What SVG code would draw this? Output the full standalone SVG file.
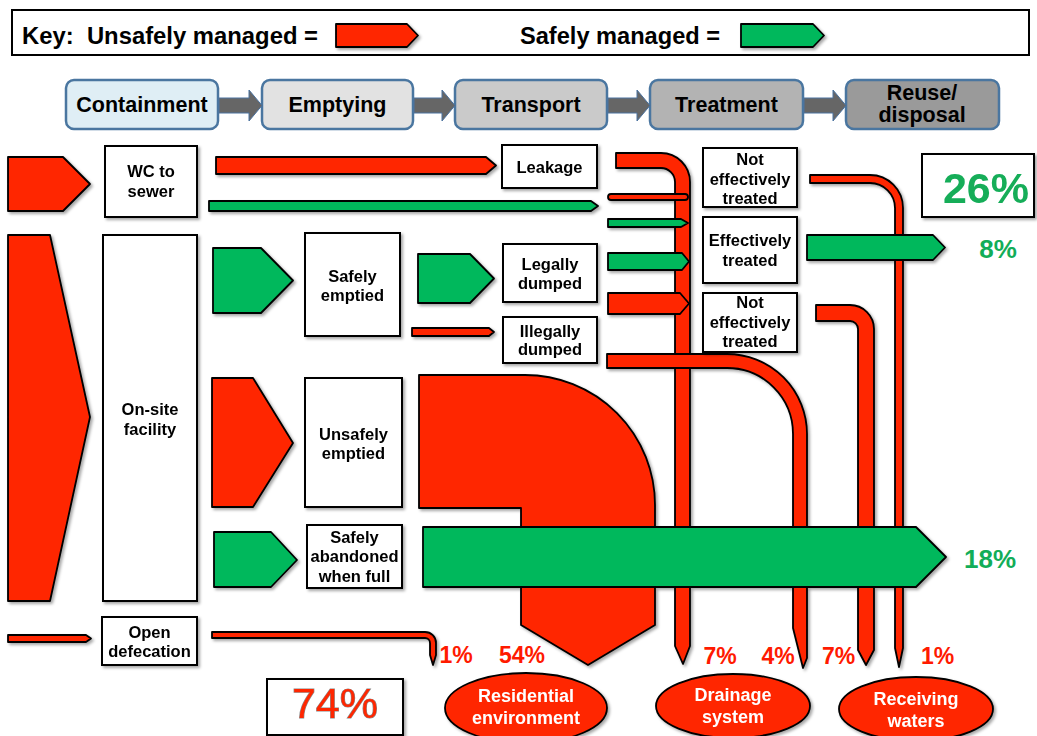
<svg xmlns="http://www.w3.org/2000/svg" width="1037" height="736" viewBox="0 0 1037 736">
<defs>
<filter id="sh" filterUnits="userSpaceOnUse" x="0" y="0" width="1037" height="736">
<feDropShadow dx="2" dy="2" stdDeviation="1.5" flood-color="#000" flood-opacity="0.35"/>
</filter>
<style>
.r{fill:#FF2600;stroke:#000;stroke-width:1.8;stroke-linejoin:round}
.g{fill:#00B85C;stroke:#000;stroke-width:1.8;stroke-linejoin:round}
.box{fill:#fff;stroke:#000;stroke-width:2}
.pb{stroke:#4A76A0;stroke-width:2.5}
.pa{fill:#666;stroke:#4A72A0;stroke-width:1}
.t{font-family:"Liberation Sans",Arial,sans-serif;font-weight:bold;font-size:16.5px;text-anchor:middle;fill:#000}
.pt{font-family:"Liberation Sans",Arial,sans-serif;font-weight:bold;font-size:21.5px;text-anchor:middle;fill:#000}
.pr{font-family:"Liberation Sans",Arial,sans-serif;font-weight:bold;font-size:23px;text-anchor:middle;fill:#FF1A00}
.pg{font-family:"Liberation Sans",Arial,sans-serif;font-weight:bold;font-size:26px;text-anchor:middle;fill:#12AD58}
.et{font-family:"Liberation Sans",Arial,sans-serif;font-weight:bold;font-size:18px;text-anchor:middle;fill:#fff}
.k{font-family:"Liberation Sans",Arial,sans-serif;font-weight:bold;font-size:23px;fill:#000}
</style>
</defs>
<rect x="0" y="0" width="1037" height="736" fill="#fff"/>

<g id="key">
<rect x="12" y="10" width="1017" height="45" fill="#fff" stroke="#000" stroke-width="2"/>
<text class="k" x="22" y="44" textLength="296" lengthAdjust="spacingAndGlyphs">Key:&#160; Unsafely managed =</text>
<polygon class="r" filter="url(#sh)" points="336,24 407,24 418,35.5 407,47 336,47"/>
<text class="k" x="520" y="44" textLength="200" lengthAdjust="spacingAndGlyphs">Safely managed =</text>
<polygon class="g" filter="url(#sh)" points="741,24 813,24 824,35.5 813,47 741,47"/>
</g>

<g id="process">
<g id="p-containment"><rect class="pb" x="66" y="80" width="152" height="49" rx="8" fill="#DFEEF5"/><text class="pt" x="142" y="112">Containment</text></g>
<g id="p-emptying"><rect class="pb" x="262" y="80" width="151" height="49" rx="8" fill="#E2E2E2"/><text class="pt" x="337.5" y="112">Emptying</text></g>
<g id="p-transport"><rect class="pb" x="455" y="80" width="152" height="49" rx="8" fill="#CACACA"/><text class="pt" x="531" y="112">Transport</text></g>
<g id="p-treatment"><rect class="pb" x="650" y="80" width="153" height="49" rx="8" fill="#B3B3B3"/><text class="pt" x="726.5" y="112">Treatment</text></g>
<g id="p-reuse"><rect class="pb" x="846" y="80" width="153" height="49" rx="8" fill="#9A9A9A"/><text class="pt" x="922" y="100">Reuse/</text><text class="pt" x="922" y="122">disposal</text></g>
</g>
<g id="process-arrows">
<polygon class="pa" points="219,98 249,98 249,90 262,105.5 249,121 249,113 219,113"/>
<polygon class="pa" points="414,98 442,98 442,90 455,105.5 442,121 442,113 414,113"/>
<polygon class="pa" points="608,98 637,98 637,90 650,105.5 637,121 637,113 608,113"/>
<polygon class="pa" points="804,98 833,98 833,90 846,105.5 833,121 833,113 804,113"/>
</g>

<g id="connectors" filter="url(#sh)">
<path class="r" d="M419,375 H525 A130,130 0 0 1 655,505 V625 L588,665 L521,625 V508 H419 Z"/>
<path class="r" d="M616,153 H661 A29,29 0 0 1 690,182 V646 L683,664 L675,646 V182 A14,14 0 0 0 661,168 H616 Z"/>
<path class="r" d="M607,354 H727 A80,80 0 0 1 807,434 V658 L803,668 L793,628 V434 A66,66 0 0 0 727,368 H607 Z"/>
<path class="r" d="M810,175 H870 A33,33 0 0 1 903,208 V648 L899,667 L895,648 V208 A25,25 0 0 0 870,183 H810 Z"/>
<path class="r" d="M816,305 H850 A24,24 0 0 1 874,329 V650 L866,665 L858,650 V329 A8,8 0 0 0 850,321 H816 Z"/>
<path class="r" d="M212,632 H425 A11,11 0 0 1 436,643 V655 L433,665 L430,655 V643 A5,5 0 0 0 425,638 H212 Z"/>
<rect class="r" x="608" y="194" width="80" height="6" rx="3"/>
<polygon class="g" points="608,219 681,219 688,223 681,227 608,227"/>
<polygon class="g" points="608,253 682,253 689,261.5 682,270 608,270"/>
<polygon class="r" points="608,293 680,293 689,303.5 680,314 608,314"/>
<polygon class="r" points="8,157 63,157 90,184 63,211 8,211"/>
<polygon class="r" points="8,235 50,235 90,417 50,601 8,601"/>
<polygon class="r" points="8,635 86,635 91,638.5 86,642 8,642"/>
<polygon class="g" points="213,248 261,248 293,280.5 261,313 213,313"/>
<polygon class="r" points="212,378 253,378 293,443 253,507 212,507"/>
<polygon class="g" points="214,532 271,532 297,560 271,587 214,587"/>
<polygon class="r" points="216,157 486,157 496,165.5 486,174 216,174"/>
<polygon class="g" points="209,201 591,201 598,206 591,211 209,211"/>
<polygon class="g" points="418,254 470,254 494,278.5 470,303 418,303"/>
<polygon class="r" points="412,328 489,328 494,332 489,336 412,336"/>
<polygon class="g" points="807,235 933,235 945,247.5 933,260 807,260"/>
<polygon class="g" points="423,527 916,527 946,557 916,587 423,587"/>
</g>

<g id="nodes" filter="url(#sh)">
<g id="n-wc"><rect class="box" x="105" y="146" width="92" height="71"/><text class="t" x="151" y="177">WC to</text><text class="t" x="151" y="197">sewer</text></g>
<g id="n-onsite"><rect class="box" x="103" y="235" width="94" height="366"/><text class="t" x="150" y="415">On-site</text><text class="t" x="150" y="435">facility</text></g>
<g id="n-open"><rect class="box" x="102" y="617" width="95" height="48"/><text class="t" x="149.5" y="638">Open</text><text class="t" x="149.5" y="657">defecation</text></g>
<g id="n-safely-emptied"><rect class="box" x="305" y="233" width="95" height="103"/><text class="t" x="352.5" y="282">Safely</text><text class="t" x="352.5" y="301">emptied</text></g>
<g id="n-unsafely-emptied"><rect class="box" x="305" y="378" width="97" height="129"/><text class="t" x="353.5" y="440">Unsafely</text><text class="t" x="353.5" y="459">emptied</text></g>
<g id="n-abandoned"><rect class="box" x="307" y="525" width="95" height="63"/><text class="t" x="354.5" y="543">Safely</text><text class="t" x="354.5" y="562">abandoned</text><text class="t" x="354.5" y="582">when full</text></g>
<g id="n-leakage"><rect class="box" x="502" y="145" width="95" height="43"/><text class="t" x="549.5" y="173">Leakage</text></g>
<g id="n-legally"><rect class="box" x="503" y="244" width="94" height="58"/><text class="t" x="550" y="270">Legally</text><text class="t" x="550" y="289">dumped</text></g>
<g id="n-illegally"><rect class="box" x="503" y="317" width="94" height="46"/><text class="t" x="550" y="337">Illegally</text><text class="t" x="550" y="355">dumped</text></g>
<g id="n-noteff1"><rect class="box" x="703" y="148" width="94" height="59"/><text class="t" x="750" y="165">Not</text><text class="t" x="750" y="185">effectively</text><text class="t" x="750" y="204">treated</text></g>
<g id="n-eff"><rect class="box" x="703" y="217" width="94" height="66"/><text class="t" x="750" y="246">Effectively</text><text class="t" x="750" y="266">treated</text></g>
<g id="n-noteff2"><rect class="box" x="703" y="293" width="94" height="59"/><text class="t" x="750" y="308">Not</text><text class="t" x="750" y="328">effectively</text><text class="t" x="750" y="347">treated</text></g>
<g id="n-26"><rect class="box" x="922" y="154" width="112" height="63"/><text x="986" y="203" font-family="Liberation Sans, Arial, sans-serif" font-weight="bold" font-size="43" text-anchor="middle" fill="#12AD58">26%</text></g>
<g id="n-74"><rect class="box" x="267" y="679" width="136" height="56"/><text x="335" y="718" font-family="Liberation Sans, Arial, sans-serif" font-size="43" text-anchor="middle" fill="#FF2600" stroke="#8A8A8A" stroke-width="1.2" paint-order="stroke">74%</text></g>
<g id="n-residential"><ellipse class="r" cx="526" cy="708" rx="81" ry="35"/><text class="et" x="526" y="702">Residential</text><text class="et" x="526" y="724">environment</text></g>
<g id="n-drainage"><ellipse class="r" cx="733" cy="706" rx="77" ry="32"/><text class="et" x="733" y="701">Drainage</text><text class="et" x="733" y="723">system</text></g>
<g id="n-receiving"><ellipse class="r" cx="916" cy="709" rx="77" ry="32"/><text class="et" x="916" y="705">Receiving</text><text class="et" x="916" y="727">waters</text></g>
</g>

<g id="labels">
<text class="pg" x="998" y="258">8%</text>
<text class="pg" x="990" y="568">18%</text>
<text class="pr" x="456" y="663">1%</text>
<text class="pr" x="522" y="663">54%</text>
<text class="pr" x="720" y="664">7%</text>
<text class="pr" x="778" y="664">4%</text>
<text class="pr" x="838.5" y="664">7%</text>
<text class="pr" x="937.5" y="664">1%</text>
</g>
</svg>
